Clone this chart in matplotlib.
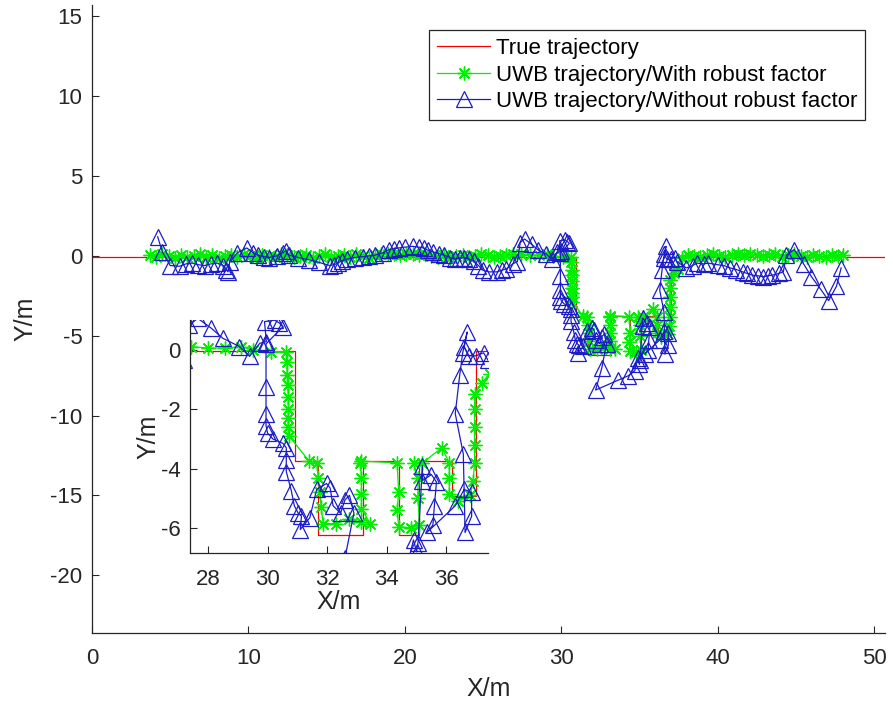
import matplotlib
matplotlib.use('Agg')
import matplotlib.pyplot as plt

plt.rcParams['font.family'] = ['Liberation Sans', 'DejaVu Sans']
plt.rcParams['axes.unicode_minus'] = False

# reference path of the vehicle
true_x = [0, 30.92, 30.92, 31.71, 31.71, 33.2, 33.2, 34.4, 34.4, 35.1, 35.1, 36.19, 36.19, 37.0, 37.0, 51]
true_y = [-0.05, -0.05, -3.75, -3.75, -6.22, -6.22, -3.75, -3.75, -6.22, -6.22, -3.75, -3.75, -4.93, -4.93, -0.05, -0.05]

# UWB positions, robust factor on
robust_x = [3.7, 4.1, 4.5, 4.9, 5.3, 5.7, 6.1, 6.5, 6.9, 7.3, 7.7, 8.1, 8.5, 8.9, 9.3, 9.7,
            10.1, 10.5, 10.9, 11.3, 11.7, 12.1, 12.5, 12.9, 13.3, 13.7, 14.1, 14.5, 14.9, 15.3,
            15.7, 16.1, 16.5, 16.9, 17.3, 17.7, 18.1, 18.5, 18.9, 19.3, 19.7, 20.1, 20.5, 20.9,
            21.3, 21.7, 22.1, 22.5, 22.9, 23.3, 23.7, 24.1, 24.5, 24.9, 25.3, 25.7, 26.1, 26.5,
            26.9, 27.44, 28.0, 28.56, 29.12, 29.5, 30.13, 30.63,
            30.65, 30.66, 30.68, 30.7, 30.7, 30.7, 30.7, 30.72, 31.4, 31.65, 31.7, 31.75, 31.8,
            31.87, 32.3, 32.75, 33.15, 33.45, 33.15, 33.15, 33.15, 33.12, 33.15, 34.35, 34.4,
            34.35, 34.4, 34.8, 35.1, 35.05, 35.05, 34.9, 35.2, 35.85, 36.1, 36.1, 36.1, 36.4,
            36.8, 36.9, 36.95, 36.95, 36.95, 36.95, 36.95, 37.2, 37.45, 37.7,
            38.1, 38.5, 38.9, 39.3, 39.7, 40.1, 40.5, 40.9, 41.3, 41.7, 42.1, 42.5, 42.9, 43.3,
            43.7, 44.1, 44.5, 44.9, 45.3, 45.7, 46.1, 46.5, 46.9, 47.3, 47.7, 48.0]
robust_y = [0.05, -0.05, 0.1, 0.0, -0.1, 0.05, -0.05, 0.0, 0.1, -0.05, 0.05, -0.1, 0.0, 0.05,
            -0.05, 0.1, 0.0, -0.1, 0.05, 0.0, -0.05, 0.1, 0.05, -0.05, 0.0, 0.05, -0.1, 0.0,
            0.1, -0.05, 0.0, 0.05, -0.05, 0.1, 0.0, -0.1, 0.05, 0.1, 0.15, 0.1, 0.05, 0.15,
            0.1, 0.05, 0.1, 0.0, -0.05, 0.05, -0.1, 0.0, 0.05, -0.05, 0.0, 0.1, 0.05, -0.05,
            0.0, 0.05, 0.1, 0.11, 0.06, 0.06, 0.11, 0.0, -0.06, -0.06,
            -0.4, -0.85, -1.2, -1.6, -2.0, -2.3, -2.6, -2.9, -3.75, -3.8, -4.3, -4.8, -5.3,
            -5.85, -5.85, -5.7, -5.8, -5.85, -5.35, -4.85, -4.3, -3.8, -3.75, -3.8, -4.8,
            -5.4, -5.95, -6.0, -5.9, -5.0, -4.3, -3.8, -3.8, -3.3, -3.8, -4.3, -4.85, -5.1,
            -4.9, -4.4, -3.8, -3.2, -2.6, -2.0, -1.5, -1.1, -0.8, -0.1,
            0.05, 0.0, -0.05, 0.05, 0.1, 0.0, -0.05, 0.05, 0.1, 0.05, 0.1, 0.05, 0.0, 0.05,
            0.1, -0.05, 0.05, 0.1, 0.0, -0.05, 0.05, 0.0, -0.05, 0.05, 0.0, 0.05]

# UWB positions, robust factor off
plain_x = [4.2, 4.5, 5.0, 5.6, 6.0, 6.4, 6.8, 7.2, 7.6, 8.0, 8.4, 8.6, 8.7, 8.8, 9.3, 9.9,
           10.3, 10.6, 11.0, 11.3, 11.8, 12.2, 12.4, 12.6, 13.2, 13.9, 14.5, 15.2, 15.5, 15.7,
           16.0, 16.3, 16.8, 17.3, 17.7, 18.1, 18.6, 19.0, 19.3, 19.6, 20.0, 20.5, 20.9, 21.2,
           21.5, 21.8, 22.2, 22.5, 22.9, 23.2, 23.5, 23.8, 24.1, 24.4, 24.7, 25.0, 25.4, 25.9,
           26.2, 26.5, 26.9, 27.2, 27.38, 27.66, 28.11, 28.5, 29.06, 29.4, 29.74, 29.96,
           29.9, 30.24, 30.4, 30.52, 29.95, 29.95, 29.95, 29.95, 30.0, 30.18, 30.52, 30.63,
           30.63, 30.63, 30.8, 30.9, 31.03, 31.14, 31.1, 31.42, 31.65, 31.98, 32.1, 32.2,
           32.45, 32.6, 32.75, 32.9, 32.6, 32.2, 33.6, 34.3, 34.7, 34.9, 35.0, 35.05, 35.2,
           35.2, 35.5, 35.67, 35.6, 35.55, 35.35, 36.3, 36.6, 36.85, 36.85, 36.63, 36.57,
           36.3, 36.45, 36.55, 36.7, 36.6, 36.75, 37.0, 37.25, 37.4, 38.0, 38.4, 38.7, 39.1,
           39.4, 40.0, 40.4, 40.8, 41.2, 41.6, 41.9, 42.2, 42.6, 42.9, 43.2, 43.5, 43.9, 44.2,
           44.4, 44.9, 45.5, 46.0, 46.6, 47.1, 47.6, 47.9]
plain_y = [1.2, 0.25, -0.6, -0.65, -0.5, -0.45, -0.55, -0.6, -0.5, -0.45, -0.6, -0.85, -1.0,
           -0.4, 0.2, 0.5, 0.2, 0.05, -0.05, -0.1, 0.0, 0.2, 0.3, 0.05, -0.1, -0.25, -0.4,
           -0.6, -0.55, -0.45, -0.3, -0.2, -0.1, -0.05, 0.0, 0.05, 0.2, 0.4, 0.45, 0.5, 0.55,
           0.6, 0.55, 0.5, 0.35, 0.25, 0.15, 0.05, -0.1, -0.2, -0.15, -0.1, -0.2, -0.3, -0.6,
           -0.9, -1.0, -1.0, -0.9, -0.8, -0.5, -0.35, 0.84, 1.06, 0.73, 0.39, 0.11, -0.22,
           0.22, 0.28, 0.95, 1.0, 0.9, 0.78, 0.2, -1.25, -2.15, -2.55, -2.8, -3.0, -3.15,
           -3.3, -3.7, -4.1, -4.75, -5.25, -5.5, -5.6, -6.05, -5.65, -4.7, -4.5, -4.65,
           -5.25, -5.5, -5.05, -4.9, -5.5, -7.0, -8.4, -7.8, -7.5, -7.2, -6.4, -6.8, -6.5,
           -3.9, -4.4, -4.2, -4.45, -5.25, -5.9, -6.15, -5.25, -4.7, -4.8, -5.6, -6.15, -3.5,
           -2.15, -0.85, -0.1, 0.6, 0.1, -0.2, -0.2, -0.1, -0.35, -0.75, -0.6, -0.45, -0.5,
           -0.45, -0.55, -0.6, -0.75, -0.85, -1.0, -1.1, -1.2, -1.25, -1.3, -1.25, -1.2,
           -1.1, -1.0, 0.05, 0.4, -0.5, -1.3, -2.1, -2.8, -1.9, -0.75]

red = '#ff0000'
green = '#00ee00'
blue = '#1c1cc8'
ink = '#262626'
star = (8, 2, 0)   # eight-spoke asterisk


def draw_tracks(ax, ms_star, ms_tri):
    l1, = ax.plot(true_x, true_y, color=red, lw=0.9)
    l2, = ax.plot(robust_x, robust_y, color=green, lw=0.9, marker=star,
                  ms=ms_star, mec=green, mew=1.0)
    l3, = ax.plot(plain_x, plain_y, color=blue, lw=0.9, marker='^',
                  ms=ms_tri, mec=blue, mfc='none', mew=0.9)
    return l1, l2, l3


def style_axes(ax):
    ax.spines['top'].set_visible(False)
    ax.spines['right'].set_visible(False)
    ax.tick_params(direction='in', length=5, width=0.8, labelsize=16, colors=ink)
    ax.tick_params(axis='x', pad=11)
    ax.tick_params(axis='y', pad=7)
    for s in ('left', 'bottom'):
        ax.spines[s].set_color(ink)
        ax.spines[s].set_linewidth(0.9)


fig = plt.figure(figsize=(8.93, 7.13), dpi=100)
ax = fig.add_axes([0.103, 0.1126, 0.888, 0.880])
lines = draw_tracks(ax, 10, 11)
ax.set_xlim(0, 50.7)
ax.set_ylim(-23.6, 15.7)
ax.set_xticks([0, 10, 20, 30, 40, 50])
ax.set_yticks([-20, -15, -10, -5, 0, 5, 10, 15])
style_axes(ax)
ax.set_xlabel('X/m', fontsize=18, color=ink, labelpad=6)
ax.set_ylabel('Y/m', fontsize=18, color=ink, labelpad=9)
leg = ax.legend(lines, ['True trajectory', 'UWB trajectory/With robust factor',
                        'UWB trajectory/Without robust factor'],
                loc='upper right', bbox_to_anchor=(0.975, 0.96), borderaxespad=0,
                fontsize=16, fancybox=False, framealpha=1, edgecolor=ink,
                handlelength=2.4, handletextpad=0.25, borderpad=0.35, labelspacing=0.25)
leg.get_frame().set_linewidth(0.9)

# zoomed view of the turning section
axin = fig.add_axes([0.2128, 0.224, 0.3337, 0.327])
draw_tracks(axin, 10, 12)
axin.set_xlim(27.4, 37.4)
axin.set_ylim(-6.85, 1.0)
axin.set_xticks([28, 30, 32, 34, 36])
axin.set_yticks([-6, -4, -2, 0])
style_axes(axin)
axin.set_xlabel('X/m', fontsize=18, color=ink, labelpad=0)
axin.set_ylabel('Y/m', fontsize=18, color=ink, labelpad=0)

fig.savefig('out.png', dpi=100)
